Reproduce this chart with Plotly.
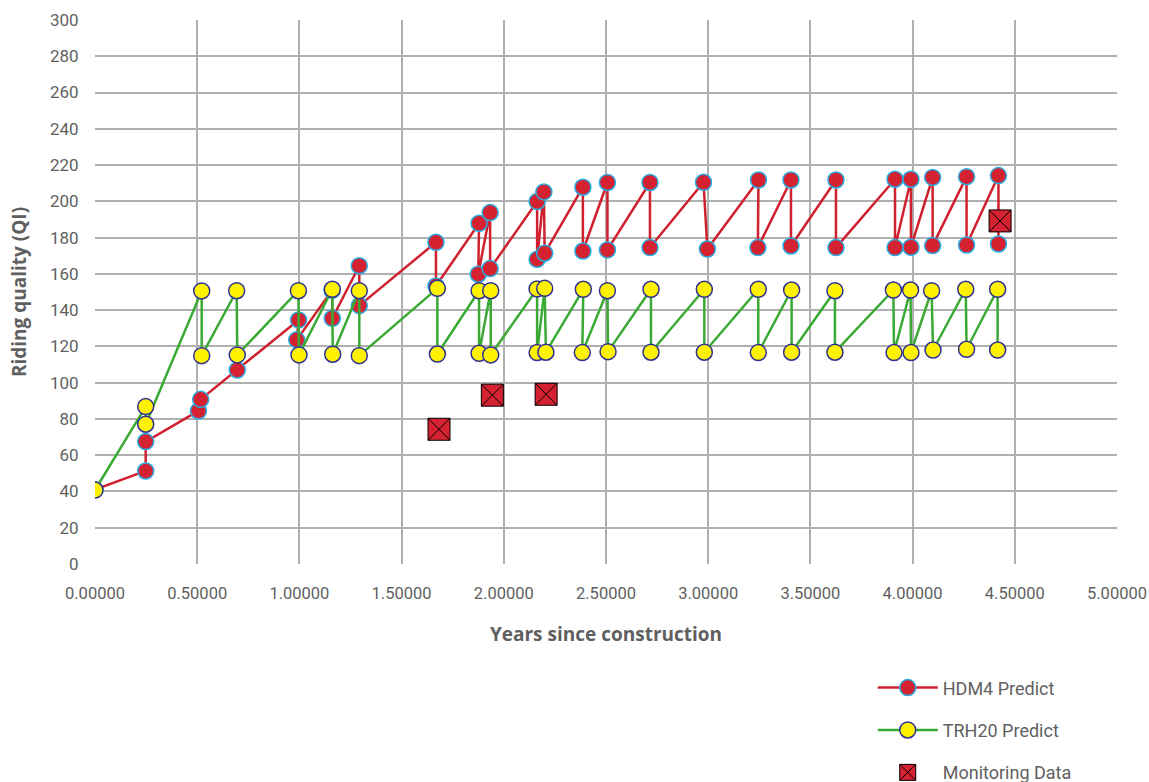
import plotly.graph_objects as go

# HDM4 Predict series (in drawing order)
hdm4_x = [0.000, 0.248, 0.248, 0.506, 0.517, 0.696, 0.996, 0.987, 1.160, 1.161,
          1.293, 1.293, 1.668, 1.668, 1.879, 1.875, 1.933, 1.933, 2.163, 2.163,
          2.196, 2.200, 2.387, 2.387, 2.507, 2.507, 2.715, 2.715, 2.977, 2.996,
          3.246, 3.243, 3.405, 3.405, 3.625, 3.625, 3.914, 3.914, 3.992, 3.992,
          4.098, 4.098, 4.264, 4.264, 4.420, 4.420]
hdm4_y = [41.0, 51.3, 67.5, 84.4, 90.8, 107.0, 134.6, 123.6, 151.0, 135.5,
          164.5, 142.5, 177.4, 153.3, 187.9, 159.8, 193.8, 162.9, 199.9, 168.0,
          205.2, 171.4, 207.8, 172.6, 210.4, 173.2, 210.4, 174.5, 210.5, 173.7,
          211.8, 174.5, 211.8, 175.4, 211.8, 174.5, 212.2, 174.5, 212.2, 174.7,
          213.2, 175.6, 213.6, 175.9, 214.2, 176.5]

# TRH20 Predict series (in drawing order)
trh_x = [0.000, 0.248, 0.248, 0.522, 0.522, 0.693, 0.696, 0.995, 0.998, 1.161,
         1.163, 1.293, 1.293, 1.675, 1.675, 1.879, 1.879, 1.936, 1.936, 2.163,
         2.163, 2.200, 2.206, 2.389, 2.384, 2.507, 2.510, 2.720, 2.720, 2.981,
         2.981, 3.245, 3.245, 3.408, 3.408, 3.620, 3.620, 3.906, 3.909, 3.990,
         3.992, 4.093, 4.100, 4.260, 4.264, 4.416, 4.416]
trh_y = [40.8, 86.8, 77.1, 150.6, 114.9, 150.7, 115.3, 150.7, 115.3, 151.5,
         115.7, 150.7, 114.9, 152.0, 115.8, 150.7, 116.2, 150.7, 115.3, 151.7,
         116.6, 152.0, 116.8, 151.5, 116.6, 150.7, 117.1, 151.5, 116.8, 151.5,
         116.8, 151.5, 116.6, 151.1, 116.8, 150.7, 116.8, 151.1, 116.6, 151.1,
         116.6, 150.7, 118.0, 151.5, 118.4, 151.5, 118.0]

# Monitoring data
mon_x = [1.683, 1.944, 2.207, 4.428]
mon_y = [74.3, 93.1, 93.6, 189.2]

x_ticks = [0, 0.5, 1.0, 1.5, 2.0, 2.5, 3.0, 3.5, 4.0, 4.5, 5.0]
y_ticks = list(range(0, 301, 20))

FONT = "Roboto"
TITLE_FONT = "Open Sans"
GRAY = "#5f5f5f"

fig = go.Figure()
fig.add_trace(go.Scatter(
    x=hdm4_x, y=hdm4_y, mode="lines+markers", name="HDM4 Predict",
    legendgroup="a",
    line=dict(color="#d0202e", width=2.5),
    marker=dict(size=16, color="#d42230", line=dict(color="#29abe2", width=1.5)),
))
fig.add_trace(go.Scatter(
    x=trh_x, y=trh_y, mode="lines+markers", name="TRH20 Predict",
    legendgroup="b",
    line=dict(color="#3aaa35", width=2.5),
    marker=dict(size=16, color="#fff200", line=dict(color="#2e3192", width=1.5)),
))
fig.add_trace(go.Scatter(
    x=mon_x, y=mon_y, mode="markers", name="Monitoring Data",
    legendgroup="c",
    marker=dict(symbol="square-x", size=22, color="#d42230",
                line=dict(color="#000000", width=1)),
))

fig.update_layout(
    width=1149, height=782,
    margin=dict(l=95, r=32, t=20, b=218, autoexpand=False),
    paper_bgcolor="white", plot_bgcolor="white",
    font=dict(family=FONT, color=GRAY, size=17),
    showlegend=True,
    legend=dict(
        x=0.761, y=-0.1937, xanchor="left", yanchor="top",
        font=dict(family=FONT, size=18, color=GRAY),
        traceorder="grouped", tracegroupgap=16, itemwidth=60,
        bgcolor="rgba(0,0,0,0)",
    ),
    xaxis=dict(
        range=[0, 5], tickvals=x_ticks, tickformat=".5f",
        showgrid=True, gridcolor="#b0b0b0", gridwidth=1.5,
        zeroline=False, showline=False,
        ticks="outside", ticklen=14, tickcolor="rgba(0,0,0,0)",
        tickfont=dict(size=16.5, color=GRAY),
        title=dict(text="<b>Years since construction</b>", standoff=25,
                   font=dict(family=TITLE_FONT, size=19, color=GRAY)),
    ),
    yaxis=dict(
        range=[0, 300], tickvals=y_ticks,
        showgrid=True, gridcolor="#b0b0b0", gridwidth=1.5,
        zeroline=False, showline=False,
        ticks="outside", ticklen=12, tickcolor="rgba(0,0,0,0)",
        tickfont=dict(size=17, color=GRAY),
        title=dict(text="<b>Riding quality (QI)</b>", standoff=18,
                   font=dict(family=TITLE_FONT, size=19, color=GRAY)),
    ),
)

# remove the default 8px page margin so the figure fills the window exactly
fig.write_html("out.html", config={"displayModeBar": False},
               post_script="document.body.style.margin='0';")
